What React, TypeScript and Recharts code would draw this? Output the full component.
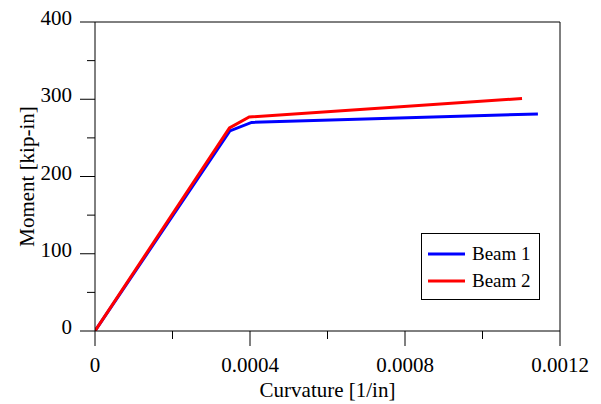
import React from 'react';
import { LineChart, Line, XAxis, YAxis, ReferenceLine, Legend, Label } from 'recharts';

const beam1Curvature = [0, 0.000348, 0.000404, 0.001143];
const beam1Moment = [0, 259, 270, 281];
const beam2Curvature = [0, 0.000347, 0.000398, 0.001102];
const beam2Moment = [0, 263, 277, 301];

const seriesNames = ['Beam 1', 'Beam 2'];
const seriesColors = ['#0000ff', '#ff0000'];

const xTicks = [0, 0.0002, 0.0004, 0.0006, 0.0008, 0.001, 0.0012];
const xMajorLabels = ['0', '0.0004', '0.0008', '0.0012'];
const yTicks = [0, 50, 100, 150, 200, 250, 300, 350, 400];
const yMajorLabels = ['0', '100', '200', '300', '400'];

const beam1 = beam1Curvature.map((c, i) => ({ c, m: beam1Moment[i] }));
const beam2 = beam2Curvature.map((c, i) => ({ c, m: beam2Moment[i] }));

const FONT = '"Liberation Serif", "Times New Roman", serif';

const XTick = (props: any) => {
  const { x, y, payload } = props;
  const idx = Math.round(payload.value / 0.0002);
  const major = idx % 2 === 0;
  return (
    <g>
      <line x1={x} x2={x} y1={y} y2={y + (major ? 15 : 8)} stroke="#000" strokeWidth={1} />
      {major && (
        <text x={x} y={y + 41} textAnchor="middle" fontFamily={FONT} fontSize={21} fill="#000">
          {xMajorLabels[idx / 2]}
        </text>
      )}
    </g>
  );
};

const YTick = (props: any) => {
  const { x, y, payload } = props;
  const idx = Math.round(payload.value / 50);
  const major = idx % 2 === 0;
  return (
    <g>
      <line x1={x - (major ? 15 : 8)} x2={x} y1={y} y2={y} stroke="#000" strokeWidth={1} />
      {major && (
        <text x={x - 23} y={y + 3} textAnchor="end" fontFamily={FONT} fontSize={21} fill="#000">
          {yMajorLabels[idx / 2]}
        </text>
      )}
    </g>
  );
};

const LegendBox = () => (
  <svg width={119} height={67} style={{ display: 'block' }}>
    <rect x={0.5} y={0.5} width={118} height={66} fill="#fff" stroke="#000" strokeWidth={1} />
    {seriesNames.map((n, i) => (
      <g key={n}>
        <line x1={7} x2={44} y1={21 + i * 27} y2={21 + i * 27} stroke={seriesColors[i]} strokeWidth={3} />
        <text x={51} y={27 + i * 27} fontFamily={FONT} fontSize={19} fill="#000">
          {n}
        </text>
      </g>
    ))}
  </svg>
);

export default function App() {
  return (
    <div style={{ position: 'absolute', left: 0, top: 0, background: '#fff' }}>
      <LineChart width={601} height={404} margin={{ top: 22, right: 41, left: 0, bottom: 0 }}>
        <XAxis
          type="number"
          dataKey="c"
          domain={[0, 0.0012]}
          ticks={xTicks}
          interval={0}
          height={73}
          tickSize={0}
          tickMargin={0}
          tickLine={false}
          tick={<XTick />}
          axisLine={{ stroke: '#000', strokeWidth: 1 }}
          allowDataOverflow
        >
          <Label
            content={(p: any) => {
              const vb = p.viewBox;
              return (
                <text x={vb.x + vb.width / 2} y={vb.y + 66} textAnchor="middle" fontFamily={FONT} fontSize={21} fill="#000">
                  Curvature [1/in]
                </text>
              );
            }}
          />
        </XAxis>
        <YAxis
          type="number"
          dataKey="m"
          domain={[0, 400]}
          ticks={yTicks}
          interval={0}
          width={95}
          tickSize={0}
          tickMargin={0}
          tickLine={false}
          tick={<YTick />}
          axisLine={{ stroke: '#000', strokeWidth: 1 }}
          allowDataOverflow
        >
          <Label
            content={(p: any) => {
              const vb = p.viewBox;
              const cx = vb.x + 27;
              const cy = vb.y + vb.height / 2;
              return (
                <text x={cx} y={cy} transform={`rotate(-90 ${cx} ${cy})`} textAnchor="middle" dominantBaseline="central" fontFamily={FONT} fontSize={21} fill="#000">
                  Moment [kip-in]
                </text>
              );
            }}
          />
        </YAxis>
        <ReferenceLine y={400} stroke="#000" strokeWidth={1} />
        <ReferenceLine x={0.0012} stroke="#000" strokeWidth={1} />
        <Line data={beam1} dataKey="m" name={seriesNames[0]} stroke={seriesColors[0]} strokeWidth={3} dot={false} isAnimationActive={false} />
        <Line data={beam2} dataKey="m" name={seriesNames[1]} stroke={seriesColors[1]} strokeWidth={3} dot={false} isAnimationActive={false} />
        <Legend
          layout="vertical"
          align="center"
          verticalAlign="middle"
          content={<LegendBox />}
          wrapperStyle={{ position: 'absolute', left: 421, top: 233, width: 119, height: 67 }}
        />
      </LineChart>
    </div>
  );
}
